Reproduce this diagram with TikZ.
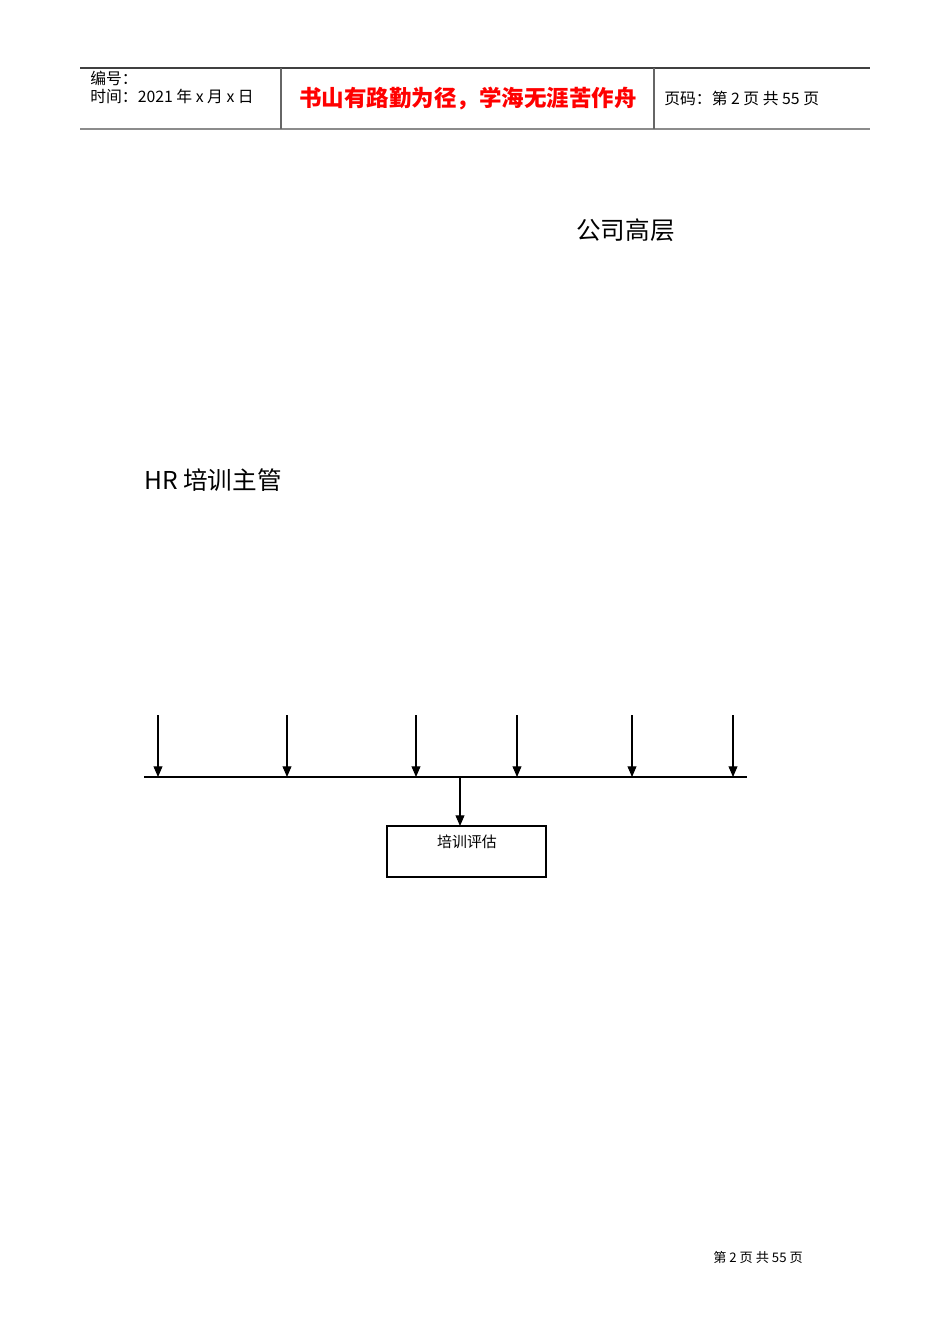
\documentclass[tikz,border=0pt]{standalone}
\usepackage{fontspec}
\usepackage{xcolor}
\setmainfont{Liberation Sans}
\newfontfamily\cjk{Noto Sans CJK SC}
\usetikzlibrary{arrows.meta}

\tikzset{
  headtext/.style={anchor=west, inner sep=0pt, font=\cjk\fontsize{9}{10}\selectfont},
  bigtext/.style={anchor=west, inner sep=0pt, font=\cjk\fontsize{14}{16}\selectfont},
  flowarrow/.style={-{Triangle[length=6pt,width=5pt]}, line width=0.6pt},
  evalbox/.style={draw, line width=0.6pt, minimum width=159*0.02cm, minimum height=51*0.02cm, inner sep=0pt}
}

\begin{document}
\begin{tikzpicture}[x=0.02cm,y=-0.02cm]
  \useasboundingbox (0,0) rectangle (950,1344);

  % header table
  \draw[line width=0.6pt, black!75] (80,68) -- (870,68);
  \draw[line width=1.1pt, black!45] (80,129) -- (870,129);
  \draw[line width=0.6pt, black!60] (281,68) -- (281,129);
  \draw[line width=0.6pt, black!60] (654,68) -- (654,129);

  \node[headtext] (num) at (90,78) {编号：};
  \node[headtext] (date) at (90,96) {时间：2021 年 x 月 x 日};
  \node[inner sep=0pt, text=red, font=\cjk\fontsize{12.8}{14}\selectfont] (motto) at (468,99)
    {\textbf{书山有路勤为径，学海无涯苦作舟}};
  \node[headtext] (page) at (664,98) {页码：第 2 页 共 55 页};

  % labels
  \node[bigtext] (top) at (576,230) {公司高层};
  \node[bigtext] (hr) at (144,480) {HR 培训主管};

  % bus with incoming arrows
  \coordinate (busL) at (144,777);
  \coordinate (busR) at (747,777);
  \draw[line width=0.7pt] (busL) -- (busR);
  \foreach \x [count=\i] in {158,287,416,517,632,733} {
    \coordinate (s\i) at (\x,715);
    \coordinate (e\i) at (\x,777);
    \draw[flowarrow] (s\i) -- (e\i);
  }

  % evaluation box
  \node[evalbox] (eval) at (466.5,851.5) {};
  \node[inner sep=0pt, font=\cjk\fontsize{8.5}{10}\selectfont] (evaltext) at (467,842) {培训评估};
  \coordinate (busM) at (460,777);
  \draw[flowarrow] (busM) -- (460,826);

  % footer
  \node[inner sep=0pt, font=\cjk\fontsize{7.5}{9}\selectfont] (foot) at (758,1257) {第 2 页 共 55 页};
\end{tikzpicture}
\end{document}
